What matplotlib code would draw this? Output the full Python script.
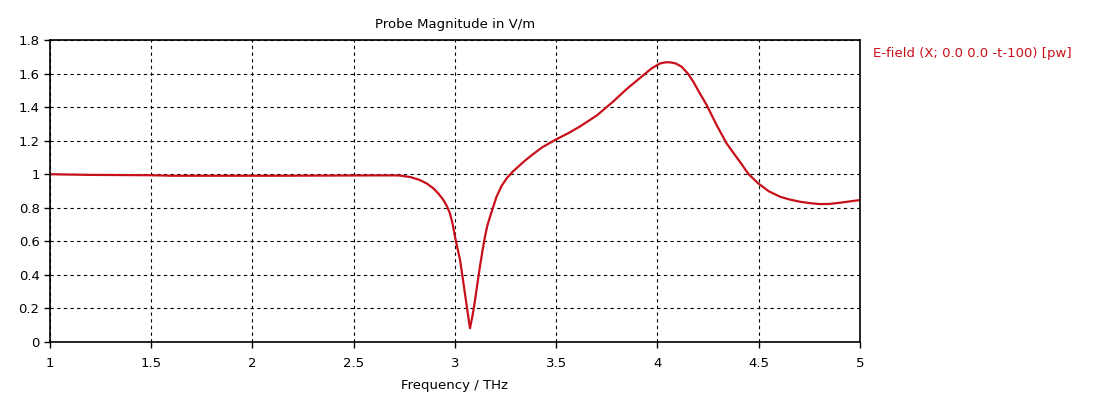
import numpy as np
import matplotlib.pyplot as plt

# frequency (THz) and probe magnitude (V/m)
freq = [1.0, 1.2, 1.5, 1.6, 1.8, 2.1, 2.4, 2.6, 2.7, 2.728, 2.78, 2.827,
        2.86, 2.893, 2.92, 2.943, 2.96, 2.975, 2.988, 3.0, 3.012, 3.025,
        3.037, 3.049, 3.062, 3.074, 3.087, 3.099, 3.111, 3.123, 3.136,
        3.148, 3.16, 3.173, 3.19, 3.205, 3.23, 3.255, 3.285, 3.312, 3.34,
        3.37, 3.43, 3.5, 3.56, 3.615, 3.7, 3.78, 3.85, 3.92, 3.97, 4.012,
        4.04, 4.062, 4.09, 4.119, 4.15, 4.177, 4.21, 4.243, 4.292, 4.341,
        4.407, 4.45, 4.497, 4.55, 4.605, 4.65, 4.704, 4.75, 4.802, 4.85,
        4.901, 4.95, 5.0]
mag = [1.0, 0.996, 0.994, 0.991, 0.991, 0.991, 0.992, 0.993, 0.993, 0.992,
       0.983, 0.965, 0.945, 0.916, 0.882, 0.846, 0.81, 0.767, 0.705, 0.628,
       0.56, 0.489, 0.39, 0.29, 0.18, 0.082, 0.16, 0.25, 0.35, 0.449,
       0.545, 0.628, 0.695, 0.747, 0.81, 0.866, 0.93, 0.975, 1.015, 1.045,
       1.075, 1.105, 1.16, 1.208, 1.245, 1.283, 1.35, 1.432, 1.51, 1.58,
       1.63, 1.66, 1.667, 1.667, 1.66, 1.641, 1.6, 1.551, 1.48, 1.412,
       1.293, 1.184, 1.074, 1.0, 0.946, 0.898, 0.866, 0.85, 0.836, 0.828,
       0.822, 0.823, 0.83, 0.838, 0.846]

xticks = [1, 1.5, 2, 2.5, 3, 3.5, 4, 4.5, 5]
xticklabels = ["1", "1.5", "2", "2.5", "3", "3.5", "4", "4.5", "5"]
yticks = [0, 0.2, 0.4, 0.6, 0.8, 1.0, 1.2, 1.4, 1.6, 1.8]
yticklabels = ["0", "0.2", "0.4", "0.6", "0.8", "1", "1.2", "1.4", "1.6", "1.8"]

plt.rcParams['font.family'] = ['DejaVu Sans']

fig = plt.figure(figsize=(11.05, 3.95), dpi=100)
ax = fig.add_axes([50/1105, 53/395, 810/1105, 302/395])

ax.plot(freq, mag, color='#c8101a', lw=1.6)

ax.set_xlim(1, 5)
ax.set_ylim(0, 1.8)
ax.set_xticks(xticks)
ax.set_xticklabels(xticklabels)
ax.set_yticks(yticks)
ax.set_yticklabels(yticklabels)
ax.tick_params(labelsize=9.5, length=4, width=1, colors='black', direction='out')
ax.tick_params(axis='x', pad=7)
ax.grid(True, color='black', linestyle=(0, (3, 3)), linewidth=0.8)

for s in ax.spines.values():
    s.set_linewidth(1.2)

ax.set_title("Probe Magnitude in V/m", fontsize=9.5, pad=9)
ax.set_xlabel("Frequency / THz", fontsize=9.5, labelpad=6)

fig.text(873/1105, 1 - 54/395, "E-field (X; 0.0 0.0 -t-100) [pw]",
         color='#c8101a', fontsize=9.5, va='center', ha='left')

fig.savefig("out.png", dpi=100)
